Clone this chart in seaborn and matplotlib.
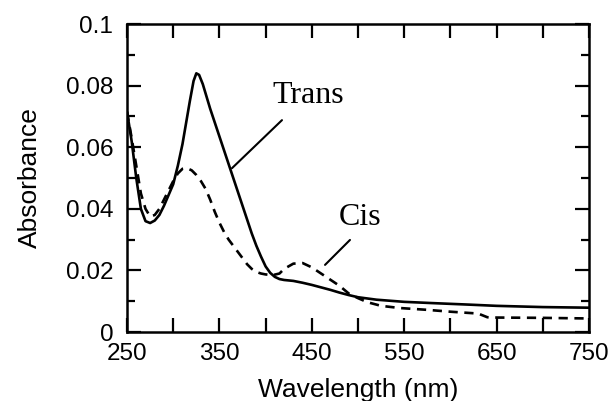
import matplotlib
matplotlib.use("Agg")
import matplotlib.pyplot as plt
from matplotlib.ticker import MultipleLocator, FixedLocator
import seaborn as sns

# Absorption spectra of the trans and cis isomers
trans_nm = [250, 255, 260, 265, 270, 275, 280, 285, 290, 295, 300, 305, 310, 314,
            318, 322, 325, 328, 332, 336, 340, 345, 350, 355, 360, 365, 370, 375,
            380, 385, 390, 395, 400, 405, 410, 415, 420, 430, 440, 450, 460, 470,
            480, 490, 500, 520, 550, 580, 620, 650, 700, 750]
trans_abs = [0.0715, 0.062, 0.050, 0.040, 0.036, 0.0354, 0.0362, 0.038, 0.041, 0.0445,
             0.048, 0.054, 0.061, 0.068, 0.075, 0.0815, 0.084, 0.0835, 0.0805, 0.0765,
             0.0725, 0.068, 0.0635, 0.059, 0.0545, 0.050, 0.0455, 0.041, 0.0365,
             0.032, 0.028, 0.0245, 0.0213, 0.0192, 0.0179, 0.0172, 0.0169, 0.0166,
             0.016, 0.0153, 0.0145, 0.0137, 0.0128, 0.012, 0.0113, 0.0105, 0.0098,
             0.0094, 0.0089, 0.0085, 0.0081, 0.0079]

cis_nm = [250, 255, 260, 265, 270, 275, 280, 285, 290, 295, 300, 305, 310, 315,
          320, 325, 330, 335, 340, 345, 350, 355, 360, 365, 370, 375, 380, 385,
          390, 395, 400, 408, 415, 420, 430, 440, 450, 460, 470, 480, 490, 500,
          510, 525, 545, 575, 600, 630, 640, 650, 700, 750]
cis_abs = [0.0715, 0.063, 0.054, 0.045, 0.040, 0.0375, 0.038, 0.040, 0.043, 0.046,
           0.049, 0.0515, 0.053, 0.0532, 0.0525, 0.051, 0.049, 0.0465, 0.043, 0.039,
           0.0355, 0.0325, 0.030, 0.028, 0.026, 0.024, 0.022, 0.0205, 0.0195, 0.019,
           0.0187, 0.0185, 0.019, 0.0205, 0.0222, 0.0224, 0.021, 0.019, 0.017,
           0.015, 0.0125, 0.011, 0.0097, 0.0085, 0.0078, 0.0072, 0.0066, 0.0060,
           0.0048, 0.0047, 0.0046, 0.0044]

x_ticks = [250, 350, 450, 550, 650, 750]
y_ticks = [0, 0.02, 0.04, 0.06, 0.08, 0.1]
y_tick_labels = ["0", "0.02", "0.04", "0.06", "0.08", "0.1"]

sns.set_style("ticks")
plt.rcParams["font.family"] = ["Liberation Sans", "DejaVu Sans"]
plt.rcParams["text.color"] = "black"
plt.rcParams["axes.labelcolor"] = "black"

fig = plt.figure(figsize=(6.11, 4.01), dpi=100)
ax = fig.add_axes([0.2079, 0.172, 0.7561, 0.768])

sns.lineplot(x=trans_nm, y=trans_abs, ax=ax, color="black", lw=1.9, sort=False)
sns.lineplot(x=cis_nm, y=cis_abs, ax=ax, color="black", lw=1.9, sort=False,
             linestyle=(0, (3.5, 2.5)))

ax.set_xlim(250, 750)
ax.set_ylim(0, 0.1)

ax.xaxis.set_major_locator(FixedLocator(x_ticks))
ax.xaxis.set_minor_locator(MultipleLocator(50))
ax.yaxis.set_major_locator(FixedLocator(y_ticks))
ax.set_yticklabels(y_tick_labels)
ax.yaxis.set_minor_locator(MultipleLocator(0.01))

ax.tick_params(axis="both", which="both", direction="in", top=True, right=True,
               width=1.6, color="black", labelsize=17.5, labelcolor="black")
ax.tick_params(axis="x", which="both", length=10, pad=8)
ax.tick_params(axis="y", which="major", length=10, pad=10)
ax.tick_params(axis="y", which="minor", length=5.5)

for s in ax.spines.values():
    s.set_linewidth(1.8)
    s.set_color("black")

ax.set_xlabel("Wavelength (nm)", fontsize=19, labelpad=9)
ax.set_ylabel("Absorbance", fontsize=19, labelpad=17)

# Curve labels with leader lines
serif = ["Liberation Serif", "DejaVu Serif"]
ax.text(446, 0.0744, "Trans", family=serif, fontsize=23, ha="center", va="baseline")
ax.plot([417.7, 363.6], [0.0688, 0.0532], color="black", lw=1.5)
ax.text(502, 0.0347, "Cis", family=serif, fontsize=23, ha="center", va="baseline")
ax.plot([491.3, 464.3], [0.0299, 0.0218], color="black", lw=1.5)

fig.savefig("out.png", dpi=100)
